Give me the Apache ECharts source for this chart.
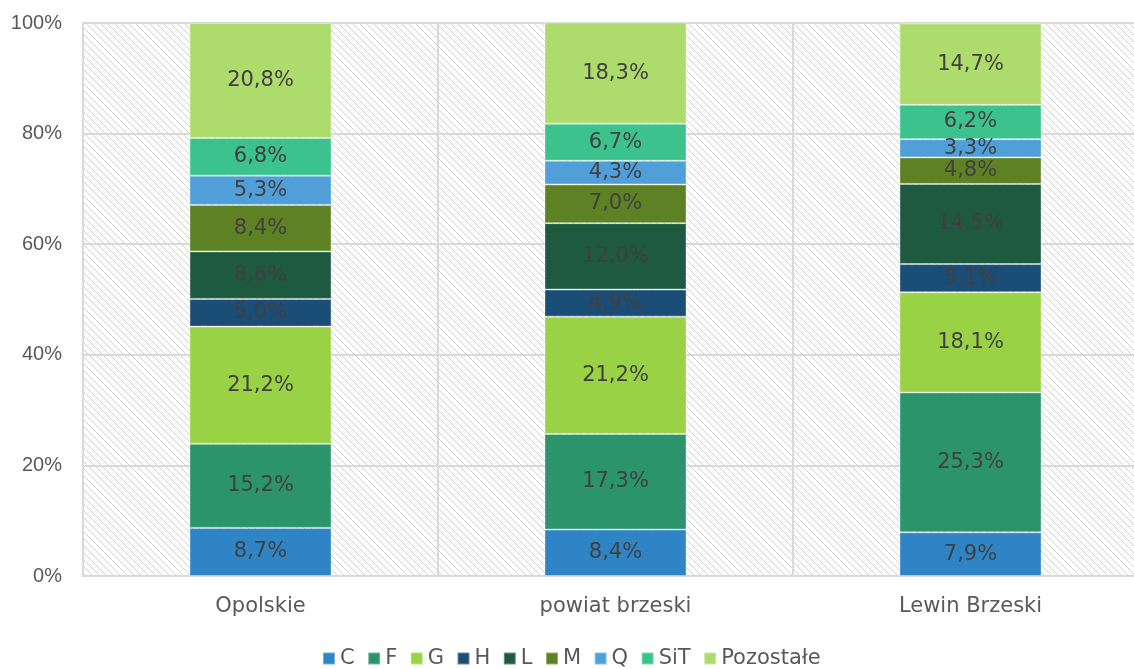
<!DOCTYPE html>
<html><head><meta charset="utf-8">
<script src="https://cdn.jsdelivr.net/npm/echarts@6/dist/echarts.min.js"></script>
<style>html,body{margin:0;padding:0;background:#fff;overflow:hidden;width:1134px;height:669px}#c{width:1148px;height:669px}</style>
</head><body><div id="c"></div>
<script>
const categories = ['Opolskie', 'powiat brzeski', 'Lewin Brzeski'];
const seriesNames = ['C', 'F', 'G', 'H', 'L', 'M', 'Q', 'SiT', 'Pozostałe'];
const valC = [8.7, 8.4, 7.9];
const valF = [15.2, 17.3, 25.3];
const valG = [21.2, 21.2, 18.1];
const valH = [5.0, 4.9, 5.1];
const valL = [8.6, 12.0, 14.5];
const valM = [8.4, 7.0, 4.8];
const valQ = [5.3, 4.3, 3.3];
const valSiT = [6.8, 6.7, 6.2];
const valPoz = [20.8, 18.3, 14.7];
const yTicks = [0, 20, 40, 60, 80, 100];

const seriesValues = [valC, valF, valG, valH, valL, valM, valQ, valSiT, valPoz];
const colors = ['#2E84C5', '#2C946B', '#99D244', '#1B4E76', '#1D5A40', '#5E8223', '#519FD9', '#3CC38D', '#AEDC6C'];

// hatch pattern
const T = 7;
const pc = document.createElement('canvas');
pc.width = T; pc.height = T;
const px = pc.getContext('2d');
px.fillStyle = '#ffffff'; px.fillRect(0,0,T,T);
px.fillStyle = '#d2d2d2';
for (let i = 0; i < T; i += 1) px.fillRect(i, i, 1, 1);

const chart = echarts.init(document.getElementById('c'), null, {renderer: 'canvas', width: 1148, height: 669});
const labelFont = 'DejaVu Sans';
chart.setOption({
  animation: false,
  color: colors,
  grid: {left: 83, top: 23, right: 0, bottom: 93, show: true,
         backgroundColor: {image: pc, repeat: 'repeat'}, borderColor: '#D9D9D9', borderWidth: 2},
  legend: {
    data: seriesNames, left: 322, top: 648, padding: 0, itemWidth: 12, itemHeight: 12, itemGap: 12.5,
    icon: 'rect',
    textStyle: {fontFamily: labelFont, fontSize: 21, color: '#595959'}
  },
  xAxis: {
    type: 'category', data: categories,
    axisLine: {show: true, lineStyle: {color: '#D9D9D9', width: 2}},
    axisTick: {show: false},
    splitLine: {show: true, lineStyle: {color: '#D9D9D9', width: 2}},
    axisLabel: {fontFamily: labelFont, fontSize: 21, color: '#595959', margin: 20}
  },
  yAxis: {
    type: 'value', min: 0, max: 100, interval: 20,
    axisLine: {show: false}, axisTick: {show: false},
    splitLine: {lineStyle: {color: '#D9D9D9', width: 2}},
    axisLabel: {fontFamily: 'Liberation Sans', fontSize: 20, color: '#595959', margin: 21,
      formatter: v => yTicks.includes(v) ? v + '%' : ''}
  },
  series: seriesNames.map((n, i) => ({
    name: n, type: 'bar', stack: 'total', barWidth: '40%',
    data: seriesValues[i],
    itemStyle: {borderColor: 'rgba(255,255,255,0.35)', borderWidth: 1},
    label: {show: true, position: 'inside', fontFamily: labelFont, fontSize: 21, color: '#404040',
      formatter: p => p.value.toFixed(1).replace('.', ',') + '%'}
  }))
});
</script></body></html>
